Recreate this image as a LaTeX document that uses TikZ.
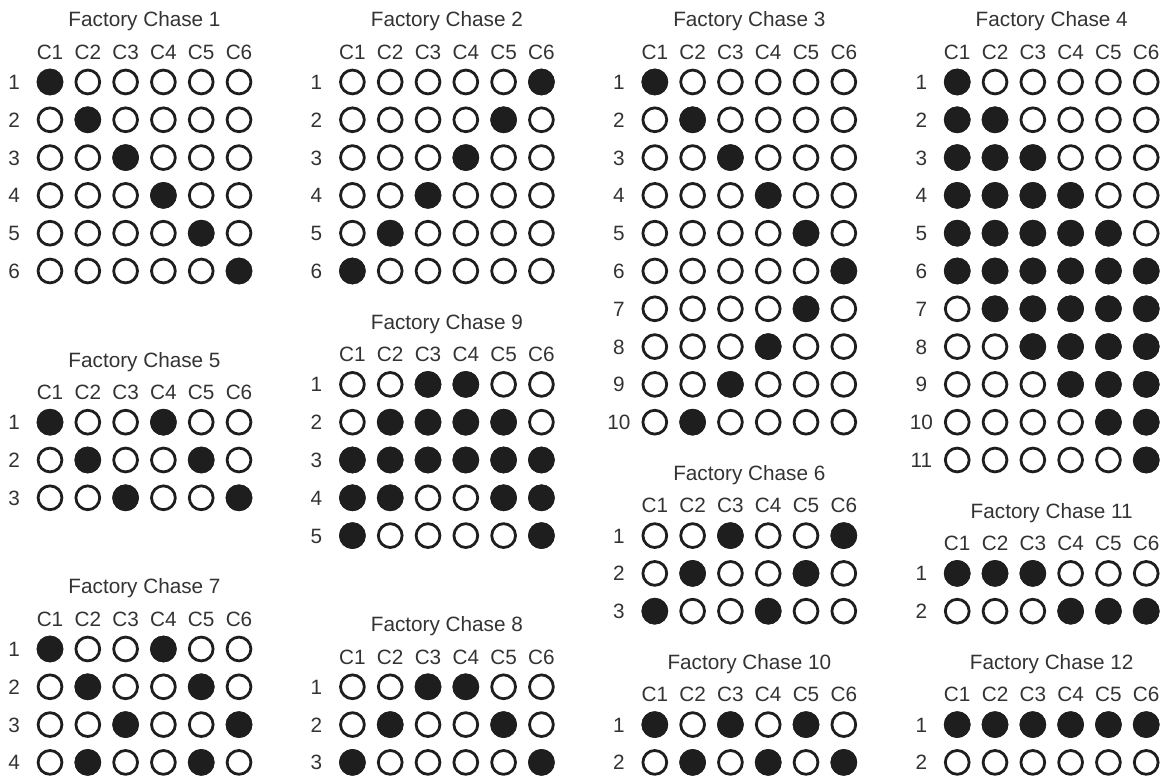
\documentclass[tikz,border=0pt]{standalone}
\usepackage{fontspec}
\setmainfont{Liberation Sans}
\usepackage{tikz}
\usepackage{xcolor}

\definecolor{inkgray}{HTML}{1E1E1E}

% one panel: name, title, number of rows, filled spots as row/column
\newcommand{\chase}[4]{%
  \node[chasetitle] (#1t) at (2.5,1.456) {#2};
  \foreach \ci in {1,...,6}
    \node[collabel] (#1c\ci) at (\ci-1,0.6) {C\ci};
  \foreach \ri in {1,...,#3} {
    \node[rowlabel] (#1r\ri) at (-0.95,-\ri+1-0.197) {\ri};
    \foreach \ci in {1,...,6}
      \draw[hole] (\ci-1,-\ri+1) circle (0.315);
  }
  \foreach \ri/\ci in {#4}
    \draw[hole,fill=inkgray] (\ci-1,-\ri+1) circle (0.315);
}

\begin{document}
\begin{tikzpicture}[
    hole/.style={draw=inkgray,line width=2.1pt},
    txt/.style={text=black!80,font=\fontsize{15.6}{18}\selectfont,anchor=base,inner sep=0pt},
    chasetitle/.style={txt},
    collabel/.style={txt},
    rowlabel/.style={txt}]
  \useasboundingbox[fill=white] (0,0) rectangle (30.767,-20.529);
  % top row of panels
  \begin{scope}[shift={(1.323,-2.169)}]
    \chase{a}{Factory Chase 1}{6}{1/1,2/2,3/3,4/4,5/5,6/6}
  \end{scope}
  \begin{scope}[shift={(9.323,-2.169)}]
    \chase{b}{Factory Chase 2}{6}{1/6,2/5,3/4,4/3,5/2,6/1}
  \end{scope}
  \begin{scope}[shift={(17.323,-2.169)}]
    \chase{c}{Factory Chase 3}{10}{1/1,2/2,3/3,4/4,5/5,6/6,7/5,8/4,9/3,10/2}
  \end{scope}
  \begin{scope}[shift={(25.323,-2.169)}]
    \chase{d}{Factory Chase 4}{11}{1/1,2/1,2/2,3/1,3/2,3/3,4/1,4/2,4/3,4/4,
      5/1,5/2,5/3,5/4,5/5,6/1,6/2,6/3,6/4,6/5,6/6,7/2,7/3,7/4,7/5,7/6,
      8/3,8/4,8/5,8/6,9/4,9/5,9/6,10/5,10/6,11/6}
  \end{scope}
  % middle panels
  \begin{scope}[shift={(1.323,-11.169)}]
    \chase{e}{Factory Chase 5}{3}{1/1,1/4,2/2,2/5,3/3,3/6}
  \end{scope}
  \begin{scope}[shift={(9.323,-10.169)}]
    \chase{i}{Factory Chase 9}{5}{1/3,1/4,2/2,2/3,2/4,2/5,3/1,3/2,3/3,3/4,3/5,3/6,
      4/1,4/2,4/5,4/6,5/1,5/6}
  \end{scope}
  \begin{scope}[shift={(17.323,-14.169)}]
    \chase{f}{Factory Chase 6}{3}{1/3,1/6,2/2,2/5,3/1,3/4}
  \end{scope}
  \begin{scope}[shift={(25.323,-15.169)}]
    \chase{k}{Factory Chase 11}{2}{1/1,1/2,1/3,2/4,2/5,2/6}
  \end{scope}
  % bottom panels
  \begin{scope}[shift={(1.323,-17.169)}]
    \chase{g}{Factory Chase 7}{4}{1/1,1/4,2/2,2/5,3/3,3/6,4/2,4/5}
  \end{scope}
  \begin{scope}[shift={(9.323,-18.169)}]
    \chase{h}{Factory Chase 8}{3}{1/3,1/4,2/2,2/5,3/1,3/6}
  \end{scope}
  \begin{scope}[shift={(17.323,-19.169)}]
    \chase{j}{Factory Chase 10}{2}{1/1,1/3,1/5,2/2,2/4,2/6}
  \end{scope}
  \begin{scope}[shift={(25.323,-19.169)}]
    \chase{l}{Factory Chase 12}{2}{1/1,1/2,1/3,1/4,1/5,1/6}
  \end{scope}
\end{tikzpicture}
\end{document}
